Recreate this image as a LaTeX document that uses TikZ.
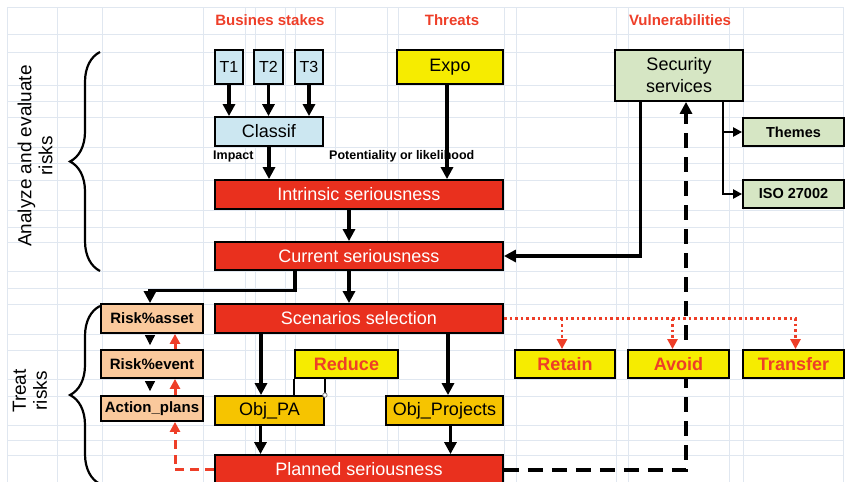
\documentclass[tikz,border=0pt]{standalone}
\usepackage{fontspec}
\setmainfont{Liberation Sans}
\usepackage{xcolor}
\usepackage{tikz}
\usetikzlibrary{arrows.meta}
\usetikzlibrary{decorations.pathreplacing}
\definecolor{redbox}{RGB}{233,48,30}
\definecolor{yellowbox}{RGB}{246,236,0}
\definecolor{goldbox}{RGB}{246,196,0}
\definecolor{bluebox}{RGB}{204,231,241}
\definecolor{greenbox}{RGB}{214,230,196}
\definecolor{salmonbox}{RGB}{250,201,156}
\definecolor{redtext}{RGB}{238,62,40}
\definecolor{gridline}{RGB}{224,231,240}
\tikzset{ box/.style = {rectangle, draw, line width=1.8pt, inner sep=0pt, align=center, font=\fontsize{18}{22}\selectfont} }
\tikzset{ stake/.style = {box, fill=bluebox} }
\tikzset{ threat/.style = {box, fill=yellowbox} }
\tikzset{ vuln/.style = {box, fill=greenbox} }
\tikzset{ level/.style = {box, fill=redbox, text=white, minimum width=288pt, minimum height=29pt} }
\tikzset{ plan/.style = {box, fill=salmonbox, minimum width=102pt, font=\bfseries\fontsize{15}{17}\selectfont} }
\tikzset{ option/.style = {box, fill=yellowbox, text=redtext, minimum width=101pt, minimum height=28pt, font=\bfseries\fontsize{18}{20}\selectfont} }
\tikzset{ objective/.style = {box, fill=goldbox, minimum height=29pt} }
\tikzset{ header/.style = {text=redtext, font=\bfseries\fontsize{15}{17}\selectfont} }
\tikzset{ note/.style = {inner sep=0pt, font=\bfseries\fontsize{12.5}{14}\selectfont} }
\tikzset{ flow/.style = {line width=3.1pt, -{Triangle[length=12pt,width=12pt]}} }
\tikzset{ feed/.style = {line width=4pt, dash pattern=on 15pt off 9pt, -{Triangle[length=12pt,width=12pt]}} }
\tikzset{ react/.style = {redtext, line width=3pt, dash pattern=on 9pt off 6pt, -{Triangle[length=10pt,width=10pt]}} }
\tikzset{ choice/.style = {redtext, line width=2.6pt, dash pattern=on 2.6pt off 3pt, -{Triangle[length=10pt,width=10pt]}} }
\tikzset{ bracket/.style = {decorate, decoration={brace, amplitude=30pt}, line width=2.2pt} }

\begin{document}
\begin{tikzpicture}[x=1pt,y=-1pt]
    \useasboundingbox (0,0) rectangle (849,482);
    \clip (0,0) rectangle (849,482);
    \foreach \gx in {7,57,102,203,245,255,285,295,335,387,398,504,516,616,628,729,743,843}
        \draw[gridline, line width=0.6pt] (\gx,7) -- (\gx,482);
    \foreach \gy in {7,34,52,85,101,117,147,163,180,210,227,242,271,288,304,334,350,379,396,425,440,455}
        \draw[gridline, line width=0.6pt] (7,\gy) -- (843,\gy);

    \node[header] (stakes) at (270,20) {Busines stakes};
    \node[header] (threats) at (452,20) {Threats};
    \node[header] (vulns) at (680,20) {Vulnerabilities};

    \node[rotate=90, align=center, font=\fontsize{19}{21}\selectfont] (analyze) at (35,156) {Analyze and evaluate\\risks};
    \node[rotate=90, align=center, font=\fontsize{19}{21}\selectfont] (treat) at (30,391) {Treat\\risks};
    \draw[bracket] (100,271) -- (100,52);
    \draw[bracket] (100,484) -- (100,306);

    \node[stake, minimum width=28pt, minimum height=34pt, font=\fontsize{16}{18}\selectfont] (T1) at (229,67) {T1};
    \node[stake, minimum width=29pt, minimum height=34pt, font=\fontsize{16}{18}\selectfont] (T2) at (268.5,67) {T2};
    \node[stake, minimum width=28pt, minimum height=34pt, font=\fontsize{16}{18}\selectfont] (T3) at (309,67) {T3};
    \node[stake, minimum width=108pt, minimum height=29pt] (Classif) at (269,131.5) {Classif};
    \node[threat, minimum width=106pt, minimum height=34pt] (Expo) at (450,67) {Expo};
    \node[vuln, minimum width=128pt, minimum height=51pt] (SS) at (679,75.5) {Security\\services};
    \node[vuln, minimum width=101pt, minimum height=28pt, font=\bfseries\fontsize{14.5}{16}\selectfont] (Themes) at (793.5,132) {Themes};
    \node[vuln, minimum width=101pt, minimum height=28pt, font=\bfseries\fontsize{14.5}{16}\selectfont] (ISO) at (793.5,194) {ISO 27002};

    \node[note, anchor=west] (impact) at (213,156) {Impact};
    \node[note, anchor=west] (likelihood) at (329,156) {Potentiality or likelihood};

    \node[level] (Intrinsic) at (359,194.5) {Intrinsic seriousness};
    \node[level, minimum height=28pt] (Current) at (359,256) {Current seriousness};
    \node[level] (Scenarios) at (359,318.5) {Scenarios selection};
    \node[level] (Planned) at (359,469.5) {Planned seriousness};

    \node[plan, minimum height=29pt] (Riskasset) at (152,318.5) {Risk\%asset};
    \node[plan, minimum height=28pt] (Riskevent) at (152,364) {Risk\%event};
    \node[plan, minimum height=25pt] (Actionplans) at (152,408.5) {Action\_plans};

    \node[option, minimum width=103pt] (Reduce) at (346.5,364) {Reduce};
    \node[objective, minimum width=109pt] (ObjPA) at (269.5,410.5) {Obj\_PA};
    \node[objective, minimum width=117pt] (ObjProjects) at (444.5,410.5) {Obj\_Projects};

    \fill[white] (Reduce.south west) rectangle (ObjPA.north east);
    \draw[line width=1.4pt] (Reduce.south west) -- (Reduce.south west |- ObjPA.north);
    \draw[line width=1.4pt] (ObjPA.north east) -- (ObjPA.north east |- Reduce.south);
    \draw[gray, fill=white, line width=0.8pt] (ObjPA.north east) circle (2.2pt);

    \draw[flow] (T1.south) -- (T1.south |- Classif.north);
    \draw[flow] (T2.south) -- (T2.south |- Classif.north);
    \draw[flow] (T3.south) -- (T3.south |- Classif.north);
    \draw[flow] (Classif.south) -- (Classif.south |- Intrinsic.north);
    \draw[flow] ([xshift=-3pt]Expo.south) -- ([xshift=-3pt]Expo.south |- Intrinsic.north);
    \draw[flow] ([xshift=-10pt]Intrinsic.south) -- ([xshift=-10pt]Current.north);
    \draw[flow] ([xshift=-10pt]Current.south) -- ([xshift=-10pt]Scenarios.north);
    \draw[flow] ([xshift=-64pt]Current.south) -- ++(0,20) -| ([xshift=-2pt]Riskasset.north);
    \draw[flow] ([xshift=26pt]SS.south west) |- (Current.east);
    \draw[flow, line width=2.2pt, -{Triangle[length=9pt,width=9pt]}] ([xshift=-21pt]SS.south east) |- (Themes.west);
    \draw[flow, line width=2.2pt, -{Triangle[length=9pt,width=9pt]}] ([xshift=-21pt]SS.south east) |- (ISO.west);
    \draw[flow] ([xshift=-98pt]Scenarios.south) -- ([xshift=-98pt]Scenarios.south |- ObjPA.north);
    \draw[flow] ([xshift=89pt]Scenarios.south) -- ([xshift=89pt]Scenarios.south |- ObjProjects.north);
    \draw[flow] ([xshift=-9pt]ObjPA.south) -- ([xshift=-9pt]ObjPA.south |- Planned.north);
    \draw[flow] ([xshift=6pt]ObjProjects.south) -- ([xshift=6pt]ObjProjects.south |- Planned.north);

    \draw[flow, line width=0.8pt, shorten <=3pt, shorten >=4pt, -{Triangle[length=10pt,width=10pt]}] ([xshift=-2pt]Riskasset.south) -- ([xshift=-2pt]Riskevent.north);
    \draw[flow, line width=0.8pt, shorten <=3pt, shorten >=4pt, -{Triangle[length=10pt,width=10pt]}] ([xshift=-2pt]Riskevent.south) -- ([xshift=-2pt]Actionplans.north);
    \draw[react] ([xshift=23pt]Actionplans.north) -- ([xshift=23pt]Riskevent.south);
    \draw[react] ([xshift=23pt]Riskevent.north) -- ([xshift=23pt]Riskasset.south);
    \draw[react] (Planned.west) -| ([xshift=23pt]Actionplans.south);

    \draw[feed] (Planned.east) -| ([xshift=7pt]SS.south);

    \node[option, minimum width=100pt] (Retain) at (565,364) {Retain};
    \node[option] (Avoid) at (678.5,364) {Avoid};
    \node[option] (Transfer) at (793.5,364) {Transfer};

    \draw[choice] (Scenarios.east) -| ([xshift=2pt]Transfer.north);
    \draw[choice] ([xshift=-3pt]Retain.north |- Scenarios.east) -- ([xshift=-3pt]Retain.north);
    \draw[choice] ([xshift=-6pt]Avoid.north |- Scenarios.east) -- ([xshift=-6pt]Avoid.north);
\end{tikzpicture}
\end{document}
